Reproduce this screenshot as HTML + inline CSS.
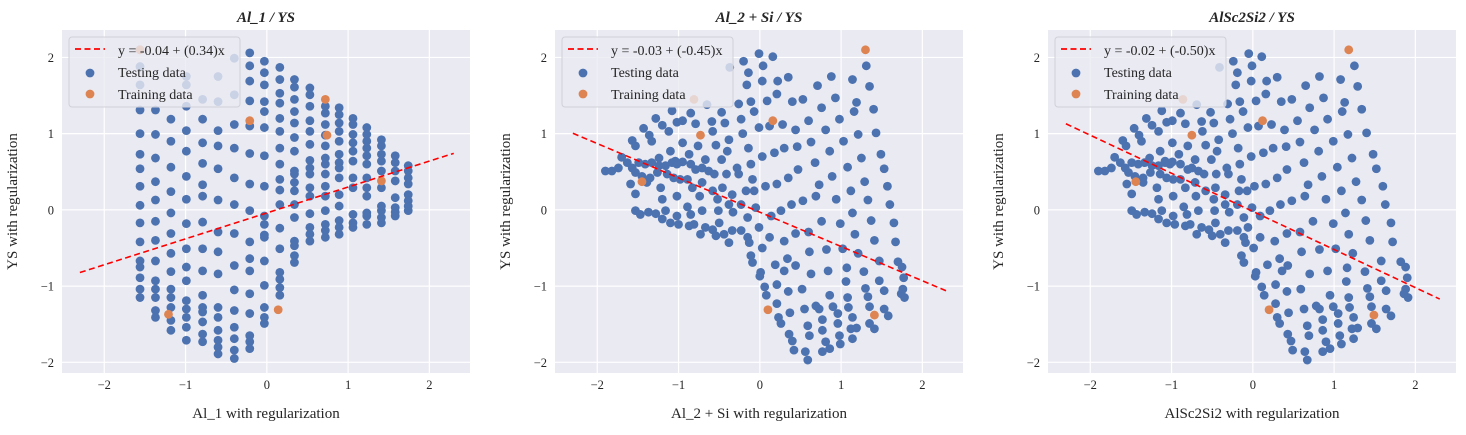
<!DOCTYPE html>
<html><head><meta charset="utf-8">
<style>
body{margin:0;background:#fff;}
svg{display:block;font-family:"Liberation Serif","DejaVu Serif",serif;}
</style></head>
<body>
<svg id="chart" width="1466" height="435" viewBox="0 0 1466 435"></svg>
<script>
// ---- Panel 1 data (column x positions and y values per column) ----
const p1ColX = [-1.56,-1.37,-1.18,-0.99,-0.79,-0.60,-0.40,-0.21,-0.03,0.16,0.34,0.53,0.72,0.89,1.06,1.23,1.41,1.58,1.74];
const p1ColY = [
[2.10,1.88,1.64,1.31,1.00,0.73,0.54,0.31,0.06,-0.17,-0.42,-0.67,-0.75,-0.89,-1.04,-1.15],
[1.31,0.99,0.68,0.37,0.13,-0.15,-0.40,-0.67,-0.93,-1.04,-1.15,-1.32,-1.41],
[1.19,0.90,0.56,0.24,-0.04,-0.31,-0.57,-0.81,-1.04,-1.15,-1.28,-1.45,-1.58],
[1.75,1.64,1.36,1.04,0.77,0.44,0.14,-0.18,-0.51,-0.75,-0.93,-1.19,-1.30,-1.41,-1.54,-1.71],
[1.45,1.19,0.88,0.61,0.33,0.18,-0.16,-0.51,-0.80,-1.12,-1.28,-1.34,-1.47,-1.63,-1.73],
[1.75,1.42,1.04,0.84,0.54,0.13,-0.29,-0.55,-0.84,-1.28,-1.41,-1.58,-1.71,-1.80,-1.89],
[1.99,1.51,1.12,0.81,0.42,0.07,-0.31,-0.73,-1.05,-1.32,-1.54,-1.69,-1.84,-1.95],
[2.06,1.89,1.69,1.43,1.10,0.74,0.34,-0.01,-0.42,-0.64,-0.80,-1.10,-1.36,-1.65,-1.73,-1.82],
[1.95,1.80,1.64,1.42,1.29,1.08,0.71,0.31,-0.08,-0.19,-0.33,-0.36,-0.67,-0.99,-1.28,-1.41,-1.49],
[1.87,1.71,1.53,1.40,1.20,1.03,0.81,0.60,0.40,0.26,0.07,-0.24,-0.51,-0.82,-0.91,-1.02,-1.12],
[1.71,1.61,1.45,1.29,1.14,0.95,0.77,0.51,0.47,0.36,0.25,0.07,-0.10,-0.41,-0.47,-0.60,-0.69],
[1.60,1.51,1.36,1.17,1.03,0.86,0.65,0.55,0.47,0.29,0.18,-0.05,-0.23,-0.32,-0.41],
[1.36,1.27,1.12,0.98,0.84,0.68,0.60,0.47,0.31,0.18,-0.01,-0.19,-0.27,-0.36],
[1.34,1.25,1.14,1.03,0.90,0.73,0.62,0.55,0.42,0.20,0.05,-0.14,-0.23,-0.32],
[1.20,1.12,0.99,0.88,0.77,0.64,0.42,0.29,-0.06,-0.17,-0.23],
[1.08,0.99,0.90,0.81,0.71,0.60,0.42,0.29,0.18,-0.04,-0.08,-0.19],
[0.92,0.84,0.73,0.64,0.51,0.29,0.05,-0.01,-0.10,-0.17],
[0.71,0.62,0.51,0.38,0.16,0.03,-0.03,-0.08],
[0.58,0.51,0.42,0.34,0.20,0.12,0.05,-0.01]
];
const p1TrainX = [-1.56,-1.21,-0.21,0.72,0.74,1.41,0.14];
const p1TrainY = [2.10,-1.37,1.17,1.45,0.98,0.38,-1.31];
const p1Fit = [-0.04, 0.34];

// ---- Panel 2 data ----
const p2TestX = [-0.01,0.16,-0.20,-0.37,0.04,-0.14,0.35,0.22,0.03,-0.16,0.88,1.14,0.71,1.35,1.31,0.21,0.09,-0.11,-0.26,0.40,0.53,0.93,1.19,1.16,1.40,0.76,-0.07,-0.23,-0.43,-0.59,-0.79,-0.95,-1.08,-0.85,-0.65,-0.47,-1.02,0.60,0.98,0.28,-0.01,0.12,0.44,0.81,1.43,1.21,1.03,-0.21,-0.38,-0.58,-1.28,-1.20,-1.12,-1.43,-1.36,-1.33,-1.57,-1.53,-0.95,-0.76,-0.54,-0.40,-0.14,0.18,0.30,0.46,0.63,0.86,1.49,1.25,1.08,0.03,-0.11,-0.28,-0.47,-0.67,-0.87,-1.10,-1.24,-1.04,-0.95,-0.85,-0.71,-0.63,-0.56,-0.41,-0.26,-0.09,0.07,0.21,0.35,0.47,0.68,0.89,0.73,1.53,1.29,1.12,0.94,0.69,0.53,0.39,0.26,0.14,-0.01,0.12,0.30,0.44,0.60,0.76,0.99,1.17,1.37,1.60,1.57,1.33,1.14,1.65,1.67,1.41,1.21,1.02,0.82,0.61,0.44,0.34,0.19,0.03,-0.11,-0.09,0.01,0.00,0.06,0.08,0.21,0.35,0.52,0.30,0.63,0.84,1.07,1.06,1.28,1.47,1.70,1.75,1.77,1.47,1.76,1.78,1.74,1.53,1.30,1.33,1.08,0.86,0.69,0.55,0.37,0.21,0.23,0.26,0.36,0.40,0.42,0.59,0.61,0.56,0.59,0.73,0.77,0.77,0.81,0.77,0.86,0.90,0.96,0.96,0.98,0.99,1.09,1.14,1.12,1.19,1.14,1.35,1.35,1.41,1.53,1.58,-1.90,-1.82,-1.74,-1.70,-1.63,-1.57,-1.49,-1.41,-1.33,-1.24,-1.16,-1.08,-1.02,-0.79,-1.53,-1.45,-1.35,-1.26,-1.14,-1.06,-0.98,-0.89,-0.83,-0.71,-0.58,-0.46,-0.34,-0.17,-0.07,-1.59,-1.53,-1.39,-1.22,-1.20,-1.02,-0.89,-0.74,-0.52,-0.38,-0.23,-0.05,-0.15,-0.33,-0.51,-0.71,-0.85,-1.02,-1.16,-1.28,-1.37,-1.53,-1.47,-1.20,-1.10,-1.00,-0.87,-0.81,-0.67,-0.58,-0.50,-0.44,-0.34,-0.23,-0.15,-0.13,-0.38,-0.54,-0.73];
const p2TestY = [2.05,2.01,1.95,1.87,1.89,1.80,1.74,1.69,1.69,1.64,1.75,1.71,1.63,1.62,1.89,1.52,1.43,1.42,1.39,1.42,1.45,1.47,1.41,1.29,1.32,1.34,1.29,1.19,1.14,1.16,1.13,1.17,1.30,1.27,1.38,1.28,1.15,1.17,1.19,1.12,1.08,1.10,1.05,1.05,1.01,0.99,0.90,1.00,0.92,1.03,1.20,1.11,1.03,1.07,0.98,0.90,0.91,0.84,0.88,0.84,0.85,0.77,0.81,0.75,0.81,0.83,0.89,0.77,0.73,0.68,0.56,0.70,0.60,0.55,0.66,0.66,0.73,0.77,0.68,0.64,0.63,0.60,0.55,0.51,0.47,0.47,0.47,0.40,0.31,0.34,0.42,0.53,0.62,0.44,0.33,0.54,0.37,0.25,0.14,0.18,0.12,0.07,-0.01,-0.08,-0.23,-0.36,-0.41,-0.31,-0.29,-0.15,-0.18,-0.32,-0.14,0.07,0.31,0.13,-0.04,-0.17,-0.42,-0.40,-0.57,-0.51,-0.52,-0.55,-0.73,-0.64,-0.72,-0.50,-0.60,-0.69,-0.82,-0.87,-1.01,-1.12,-0.98,-1.07,-1.04,-0.80,-0.84,-0.80,-0.76,-0.94,-0.81,-0.67,-0.68,-0.75,-0.89,-0.93,-1.04,-1.15,-1.10,-1.06,-1.03,-1.14,-1.15,-1.12,-1.26,-1.30,-1.35,-1.23,-1.41,-1.49,-1.63,-1.72,-1.84,-1.52,-1.65,-1.86,-1.97,-1.30,-1.44,-1.58,-1.73,-1.86,-1.82,-1.27,-1.36,-1.49,-1.65,-1.76,-1.28,-1.41,-1.56,-1.55,-1.69,-1.27,-1.49,-1.56,-1.30,-1.39,0.51,0.51,0.55,0.69,0.62,0.55,0.62,0.60,0.62,0.58,0.58,0.62,0.60,0.53,0.49,0.44,0.42,0.49,0.47,0.42,0.40,0.40,0.29,0.36,0.25,0.29,0.20,0.25,0.25,0.34,0.21,0.36,0.29,0.14,0.18,0.04,0.18,0.14,0.07,0.07,0.03,-0.10,-0.03,-0.01,-0.01,-0.06,-0.08,-0.01,-0.05,-0.03,-0.01,-0.06,-0.12,-0.17,-0.19,-0.21,-0.19,-0.23,-0.26,-0.17,-0.32,-0.27,-0.27,-0.36,-0.43,-0.43,-0.34,-0.32];
const p2TrainX = [-0.81,-0.73,0.16,1.30,-1.45,0.10,1.41];
const p2TrainY = [1.45,0.98,1.17,2.10,0.37,-1.31,-1.38];
const p2Fit = [-0.03, -0.45];

// ---- Panel 3 data ----
const p3TestX = [-0.05,0.11,-0.24,-0.41,-0.01,-0.19,0.30,0.17,-0.02,-0.21,0.82,1.08,0.65,1.29,1.25,0.16,0.04,-0.16,-0.31,0.35,0.48,0.87,1.13,1.10,1.34,0.70,-0.12,-0.28,-0.48,-0.63,-0.83,-0.99,-1.12,-0.89,-0.69,-0.52,-1.06,0.55,0.92,0.23,-0.06,0.07,0.39,0.76,1.40,1.17,0.99,-0.25,-0.42,-0.62,-1.31,-1.24,-1.16,-1.46,-1.40,-1.37,-1.60,-1.56,-0.99,-0.80,-0.58,-0.44,-0.18,0.13,0.25,0.41,0.58,0.81,1.48,1.22,1.04,-0.02,-0.16,-0.32,-0.51,-0.71,-0.91,-1.14,-1.27,-1.08,-0.99,-0.89,-0.75,-0.67,-0.60,-0.45,-0.30,-0.14,0.02,0.16,0.30,0.42,0.63,0.85,0.68,1.52,1.27,1.09,0.90,0.64,0.48,0.34,0.21,0.09,-0.06,0.09,0.27,0.42,0.58,0.74,0.99,1.18,1.39,1.63,1.60,1.34,1.14,1.70,1.72,1.44,1.23,1.02,0.82,0.60,0.43,0.33,0.18,0.01,-0.14,-0.11,0.04,0.03,0.11,0.14,0.28,0.42,0.59,0.36,0.70,0.92,1.16,1.15,1.38,1.58,1.82,1.88,1.90,1.58,1.88,1.91,1.86,1.64,1.41,1.44,1.18,0.95,0.78,0.63,0.44,0.28,0.30,0.33,0.43,0.47,0.49,0.67,0.69,0.64,0.67,0.82,0.86,0.86,0.90,0.86,0.95,0.99,1.05,1.05,1.07,1.09,1.19,1.24,1.22,1.29,1.24,1.46,1.46,1.52,1.64,1.70,-1.90,-1.82,-1.74,-1.70,-1.63,-1.57,-1.49,-1.41,-1.33,-1.24,-1.16,-1.08,-1.02,-0.80,-1.53,-1.45,-1.35,-1.26,-1.14,-1.06,-0.98,-0.89,-0.83,-0.71,-0.58,-0.46,-0.34,-0.17,-0.07,-1.55,-1.49,-1.35,-1.18,-1.16,-0.98,-0.85,-0.70,-0.48,-0.34,-0.19,-0.01,-0.11,-0.29,-0.47,-0.67,-0.81,-0.98,-1.12,-1.24,-1.33,-1.49,-1.43,-1.16,-1.06,-0.96,-0.83,-0.77,-0.63,-0.54,-0.46,-0.40,-0.30,-0.19,-0.11,-0.09,-0.34,-0.50,-0.69];
const p3TestY = p2TestY.slice();
const p3TrainX = [-0.86,-0.75,0.12,1.18,-1.44,0.20,1.49];
const p3TrainY = [1.45,0.98,1.17,2.10,0.37,-1.31,-1.38];
const p3Fit = [-0.02, -0.50];

const xTicks = [-2,-1,0,1,2];
const yTicks = [-2,-1,0,1,2];
const xTickLabels = ["\u22122","\u22121","0","1","2"];
const yTickLabels = ["\u22122","\u22121","0","1","2"];
const titles = ["Al_1 / YS","Al_2 + Si / YS","AlSc2Si2 / YS"];
const xLabels = ["Al_1 with regularization","Al_2 + Si with regularization","AlSc2Si2 with regularization"];

const NS = "http://www.w3.org/2000/svg";
const svg = document.getElementById("chart");
function mk(tag, attrs, parent){const e=document.createElementNS(NS,tag);for(const k in attrs)e.setAttribute(k,attrs[k]);(parent||svg).appendChild(e);return e;}

const W=408, H=343, TOP=30, XMIN=-2.52, XMAX=2.50, YMIN=-2.14, YMAX=2.36;
const lefts=[62,555,1048];

function panel(i, tx, ty, trX, trY, fit){
  const L=lefts[i];
  const sx=v=>L+(v-XMIN)/(XMAX-XMIN)*W;
  const sy=v=>TOP+(YMAX-v)/(YMAX-YMIN)*H;
  const g=mk("g",{});
  
  
  const bg=mk("rect",{x:L,y:TOP,width:W,height:H,fill:"#eaeaf2"},g);
  
  
  xTicks.forEach((t,k)=>{
    const gl=mk("line",{x1:sx(t),x2:sx(t),y1:TOP,y2:TOP+H,stroke:"#fff","stroke-width":1.2},g);
    
    
    const tl=mk("text",{x:sx(t),y:TOP+H+16,"text-anchor":"middle","font-size":12.5,fill:"#262626"},g);
    tl.textContent=xTickLabels[k];
    
    
  });
  yTicks.forEach((t,k)=>{
    const gl=mk("line",{x1:L,x2:L+W,y1:sy(t),y2:sy(t),stroke:"#fff","stroke-width":1.2},g);
    
    
    const tl=mk("text",{x:L-8,y:sy(t)+4.5,"text-anchor":"end","font-size":12.5,fill:"#262626"},g);
    tl.textContent=yTickLabels[k];
    
    
  });
  for(let k=0;k<tx.length;k++){
    const c=mk("circle",{cx:sx(tx[k]),cy:sy(ty[k]),r:4.4,fill:"#4c72b0"},g);
    
    
  }
  for(let k=0;k<trX.length;k++){
    const c=mk("circle",{cx:sx(trX[k]),cy:sy(trY[k]),r:4.4,fill:"#dd8452"},g);
    
    
  }
  const x0=-2.3,x1=2.3;
  const ln=mk("line",{x1:sx(x0),y1:sy(fit[0]+fit[1]*x0),x2:sx(x1),y2:sy(fit[0]+fit[1]*x1),stroke:"#ff0000","stroke-width":1.6,"stroke-dasharray":"6,3.5"},g);
  
  
  // legend
  const lg=mk("g",{},g);
  
  
  mk("rect",{x:L+7,y:TOP+7,width:171,height:70,rx:3,fill:"rgba(234,234,242,0.8)",stroke:"#d0d0d8","stroke-width":1},lg);
  mk("line",{x1:L+13,x2:L+43,y1:TOP+19,y2:TOP+19,stroke:"#ff0000","stroke-width":1.8,"stroke-dasharray":"6,3.5"},lg);
  const fmt=v=>(v<0?"-":"")+Math.abs(v).toFixed(2);
  const t1=mk("text",{x:L+56,y:TOP+25,"font-size":14,fill:"#262626"},lg);
  t1.textContent="y = "+fmt(fit[0])+" + ("+fmt(fit[1])+")x";
  
  
  mk("circle",{cx:L+28,cy:TOP+43,r:4.4,fill:"#4c72b0"},lg);
  const t2=mk("text",{x:L+56,y:TOP+47,"font-size":14,fill:"#262626"},lg);
  t2.textContent="Testing data";
  
  
  mk("circle",{cx:L+28,cy:TOP+64,r:4.4,fill:"#dd8452"},lg);
  const t3=mk("text",{x:L+56,y:TOP+69,"font-size":14,fill:"#262626"},lg);
  t3.textContent="Training data";
  
  
  // titles & labels
  const tt=mk("text",{x:L+W/2,y:22,"text-anchor":"middle","font-size":15,"font-weight":"bold","font-style":"italic",fill:"#262626"},g);
  tt.textContent=titles[i];
  
  
  const xl=mk("text",{x:L+W/2,y:418,"text-anchor":"middle","font-size":15,fill:"#262626"},g);
  xl.textContent=xLabels[i];
  
  
  const yx=L-45, yy=TOP+H/2;
  const yl=mk("text",{x:yx,y:yy,"text-anchor":"middle","font-size":15,fill:"#262626",transform:"rotate(-90 "+yx+" "+yy+")"},g);
  yl.textContent="YS with regularization";
  
  
}

const p1X=[],p1Y=[];
p1ColX.forEach((x,i)=>p1ColY[i].forEach(y=>{p1X.push(x);p1Y.push(y);}));
panel(0,p1X,p1Y,p1TrainX,p1TrainY,p1Fit);
panel(1,p2TestX,p2TestY,p2TrainX,p2TrainY,p2Fit);
panel(2,p3TestX,p3TestY,p3TrainX,p3TrainY,p3Fit);
</script>
</body></html>
